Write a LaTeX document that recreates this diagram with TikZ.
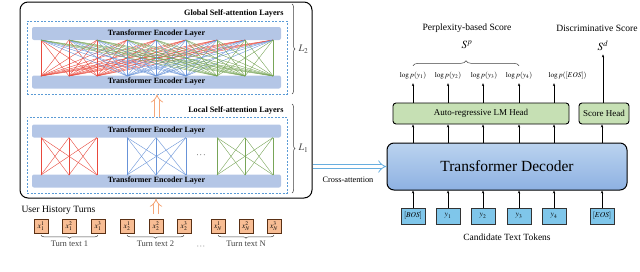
\documentclass[tikz,border=0pt]{standalone}
\usepackage{mathptmx}
\usepackage{fontspec}
\setmainfont{Liberation Serif}
\usetikzlibrary{arrows.meta,decorations.pathreplacing}

\definecolor{encblue}{HTML}{B4C6E6}
\definecolor{dashblue}{HTML}{5B9BD5}
\definecolor{attred}{HTML}{E8493D}
\definecolor{attblue}{HTML}{6893D8}
\definecolor{attgreen}{HTML}{78A558}
\definecolor{tokorange}{HTML}{F8BD94}
\definecolor{tokbrown}{HTML}{5A3014}
\definecolor{headgreen}{HTML}{C6E0B4}
\definecolor{candblue}{HTML}{7FC6EA}
\definecolor{arroworange}{HTML}{F5A77A}
\definecolor{crossblue}{HTML}{68AEDF}
\definecolor{dectop}{HTML}{BBD3EF}
\definecolor{decbot}{HTML}{8DB1E2}

\begin{document}
\begin{tikzpicture}[x=1pt,y=-1pt,
  enclayer/.style={fill=encblue,rounded corners=2pt,minimum width=249pt,minimum height=13pt,inner sep=0pt,font=\fontsize{8}{9}\selectfont\bfseries},
  dashbox/.style={draw=dashblue,dash pattern=on 2pt off 1.5pt,line width=0.5pt,minimum width=260pt,inner sep=0pt},
  layerlabel/.style={anchor=east,font=\fontsize{8.2}{9}\selectfont\bfseries},
  histtok/.style={draw=tokbrown,fill=tokorange,line width=0.6pt,minimum size=14pt,inner sep=0pt,font=\fontsize{7.5}{8}\selectfont},
  candtok/.style={draw=black!80,fill=candblue,line width=0.6pt,minimum width=24pt,minimum height=16pt,inner sep=0pt,font=\fontsize{7.5}{8}\selectfont},
  headbox/.style={draw=black,fill=headgreen,line width=0.9pt,rounded corners=3pt,minimum height=21pt,inner sep=0pt,font=\fontsize{9}{10}\selectfont},
  brc/.style={decorate,decoration={brace,amplitude=3pt},line width=0.5pt,black!75},
  arr/.style={-{Stealth[length=3pt,width=2.4pt]},line width=0.5pt},
  hollow/.style={double=white,double distance=3.6pt,line width=0.8pt,-{Implies}},
  attline/.style={line width=0.4pt}]
\useasboundingbox (0,0) rectangle (640,271);

\node[draw,rounded corners=8pt,line width=1pt,minimum width=292pt,minimum height=196pt] (encbox) at (166,100) {};
\node[dashbox,minimum height=73pt] (gbox) at (157,57.5) {};
\node[dashbox,minimum height=76pt] (lbox) at (157,155) {};
\node[layerlabel] (glabel) at (287,13) {Global Self-attention Layers};
\node[layerlabel] (llabel) at (287,110) {Local Self-attention Layers};
\node[enclayer] (gtop) at (156.5,33.5) {Transformer Encoder Layer};
\node[enclayer] (gbot) at (156.5,82) {Transformer Encoder Layer};
\node[enclayer] (ltop) at (156.5,131) {Transformer Encoder Layer};
\node[enclayer] (lbot) at (156.5,181) {Transformer Encoder Layer};

\foreach \xa [count=\i] in {41,69,97,127,156,186,217,245,273} {
  \coordinate (gt\i) at (\xa,40);
  \coordinate (gb\i) at (\xa,76);
  \coordinate (lt\i) at (\xa,137.5);
  \coordinate (lb\i) at (\xa,175);
}
\foreach \i/\c in {1/attred,2/attred,3/attred,4/attblue,5/attblue,6/attblue,7/attgreen,8/attgreen,9/attgreen}
  \foreach \j in {1,...,9}
    \draw[attline,\c] (gb\i) -- (gt\j);
\foreach \c/\p/\q/\r in {attred/1/2/3,attblue/4/5/6,attgreen/7/8/9}
  \foreach \i in {\p,\q,\r}
    \foreach \j in {\p,\q,\r}
      \draw[attline,\c] (lb\i) -- (lt\j);
\node (ldots) at (201,156) {\fontsize{9}{10}\selectfont$\cdots$};

\draw[brc] (292,4) -- (292,94) node[midway,right=3pt] (l2) {$L_2$};
\draw[brc] (292,104) -- (292,193) node[midway,right=3pt] (l1) {$L_1$};

\draw[hollow,arroworange] (lbox.north -| gbox.south) -- (gbox.south);

\node[anchor=west,font=\fontsize{9.6}{10}\selectfont] (histlabel) at (18,210) {User History Turns};
\node[histtok] (h1) at (41,226) {$x_1^1$};
\node[histtok] (h2) at (69,226) {$x_1^2$};
\node[histtok] (h3) at (98,226) {$x_1^3$};
\node[histtok] (h4) at (127,226) {$x_2^1$};
\node[histtok] (h5) at (156,226) {$x_2^2$};
\node[histtok] (h6) at (184,226) {$x_2^3$};
\node[histtok] (h7) at (218,226) {$x_N^1$};
\node[histtok] (h8) at (246,226) {$x_N^2$};
\node[histtok] (h9) at (274,226) {$x_N^3$};
\draw[brc] ([yshift=-2pt]h3.south) -- ([yshift=-2pt]h1.south) node[midway,below=2pt,font=\fontsize{8.5}{9}\selectfont] (turn1) {Turn text 1};
\draw[brc] ([yshift=-2pt]h6.south) -- ([yshift=-2pt]h4.south) node[midway,below=2pt,font=\fontsize{8.5}{9}\selectfont] (turn2) {Turn text 2};
\draw[brc] ([yshift=-2pt]h9.south) -- ([yshift=-2pt]h7.south) node[midway,below=2pt,font=\fontsize{8.5}{9}\selectfont] (turnn) {Turn text N};
\node (tdots) at (201,247) {\fontsize{8}{9}\selectfont$\cdots$};
\draw[hollow,arroworange] ([yshift=5pt]h5.north) -- (encbox.south -| h5);

\node[draw,line width=1pt,rounded corners=7pt,top color=dectop,bottom color=decbot,minimum width=240pt,minimum height=47pt,font=\fontsize{15.5}{17}\selectfont] (dec) at (507,166.5) {Transformer Decoder};
\draw[hollow,crossblue] (encbox.east |- dec.west) -- (dec.west);
\node[font=\fontsize{8.3}{9}\selectfont] (crosslabel) at (348,180) {Cross-attention};

\node[candtok] (c1) at (413,216) {$[BOS]$};
\node[candtok] (c2) at (448,216) {$y_1$};
\node[candtok] (c3) at (483,216) {$y_2$};
\node[candtok] (c4) at (519,216) {$y_3$};
\node[candtok] (c5) at (554,216) {$y_4$};
\node[candtok] (c6) at (602,216) {$[EOS]$};
\node[font=\fontsize{9.5}{10}\selectfont] (candlabel) at (507,237) {Candidate Text Tokens};

\node[headbox,minimum width=176pt] (lmhead) at (481,113.5) {Auto-regressive LM Head};
\node[headbox,minimum width=50pt] (shead) at (604,113.5) {Score Head};

\foreach \i in {1,...,6}
  \draw[arr] (c\i.north) -- (c\i |- dec.south);
\foreach \i in {1,...,5}
  \draw[arr] (c\i |- dec.north) -- (c\i |- lmhead.south);
\draw[arr] (c6 |- dec.north) -- (c6 |- shead.south);

\node[font=\fontsize{7.3}{8}\selectfont] (lp1) at (413,76) {$\log p(y_1)$};
\node[font=\fontsize{7.3}{8}\selectfont] (lp2) at (448,76) {$\log p(y_2)$};
\node[font=\fontsize{7.3}{8}\selectfont] (lp3) at (484,76) {$\log p(y_3)$};
\node[font=\fontsize{7.3}{8}\selectfont] (lp4) at (519,76) {$\log p(y_4)$};
\node[font=\fontsize{7.3}{8}\selectfont,anchor=west] (lp5) at (545,76) {$\log p([EOS])$};
\foreach \i in {1,...,5}
  \draw[arr] (c\i |- lmhead.north) -- (c\i |- lp\i.south);

\draw[brc,decoration={brace,amplitude=5pt}] ([yshift=3pt]lp1.north) -- ([yshift=3pt]lp4.north);
\node[font=\fontsize{11}{12}\selectfont] (sp) at (467,45) {$S^p$};
\node[font=\fontsize{9.6}{10}\selectfont] (splabel) at (467,28) {Perplexity-based Score};
\node[font=\fontsize{11}{12}\selectfont] (sd) at (603,46) {$S^d$};
\node[font=\fontsize{9.6}{10}\selectfont] (sdlabel) at (597,28) {Discriminative Score};
\draw[arr] (shead.north -| sd) -- (sd.south);
\end{tikzpicture}
\end{document}
